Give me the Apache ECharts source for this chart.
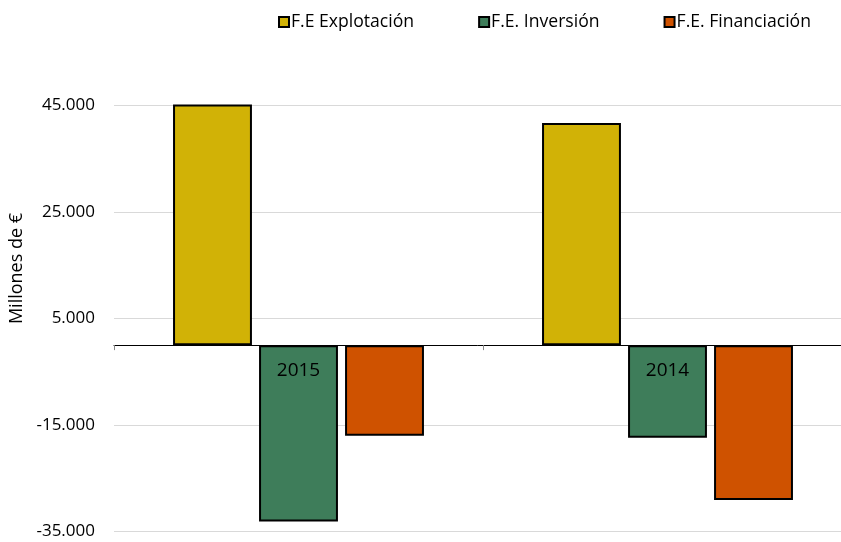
<!DOCTYPE html>
<html>
<head>
<meta charset="utf-8">
<script src="https://cdn.jsdelivr.net/npm/echarts@6/dist/echarts.min.js"></script>
<style>
html,body{margin:0;padding:0;background:#fff;}
#chart{width:841px;height:542px;}
</style>
</head>
<body>
<div id="chart"></div>
<script>
const categories = ['2015', '2014'];
const explotacion = [45800, 41700];
const inversion = [-33100, -17400];
const financiacion = [-17000, -29100];
const seriesNames = ['F.E Explotación', 'F.E. Inversión', 'F.E. Financiación'];
const yTicks = { min: -35000, max: 45000, interval: 20000 };

const FONT = '"Open Sans", "Noto Sans", sans-serif';
function fmt(v) {
  const s = Math.abs(v).toString().replace(/\B(?=(\d{3})+(?!\d))/g, '.');
  return (v < 0 ? '-' : '') + s;
}
const colors = ['#D1B206', '#3E7D5A', '#CF5200'];
const chart = echarts.init(document.getElementById('chart'));
const mk = (name, data, color) => ({
  name: name,
  type: 'bar',
  data: data,
  barGap: '9%',
  barCategoryGap: '32%',
  itemStyle: { color: color, borderColor: '#000', borderWidth: 2 }
});
chart.setOption({
  animation: false,
  textStyle: { fontFamily: FONT },
  legend: {
    left: 273, top: 8,
    itemWidth: 10, itemHeight: 10, itemGap: 64,
    icon: 'rect',
    textStyle: { fontFamily: FONT, fontSize: 17.6, color: '#000', padding: [0, 0, 0, -3] },
    data: seriesNames
  },
  grid: { left: 114, right: -11, top: 105.5, bottom: 10.5, containLabel: false, outerBoundsMode: 'none' },
  xAxis: {
    type: 'category',
    data: categories,
    axisLine: { onZero: true, lineStyle: { color: '#000', width: 1 } },
    axisTick: { show: true, length: 5, lineStyle: { color: '#888' } },
    axisLabel: { fontFamily: FONT, fontSize: 19, color: '#000', margin: -170.5 },
    z: 10
  },
  yAxis: {
    type: 'value',
    min: yTicks.min, max: yTicks.max, interval: yTicks.interval,
    name: 'Millones de €',
    nameLocation: 'middle',
    nameGap: 81,
    nameTextStyle: { fontFamily: FONT, fontSize: 18, color: '#000', padding: [0, 0, 0, 100] },
    axisLine: { show: false },
    axisTick: { show: false },
    axisLabel: { fontFamily: FONT, fontSize: 17, color: '#000', margin: 19, formatter: fmt },
    splitLine: { lineStyle: { color: '#d9d9d9', width: 1 } }
  },
  series: [
    mk(seriesNames[0], explotacion, colors[0]),
    mk(seriesNames[1], inversion, colors[1]),
    mk(seriesNames[2], financiacion, colors[2])
  ]
});
</script>
</body>
</html>
